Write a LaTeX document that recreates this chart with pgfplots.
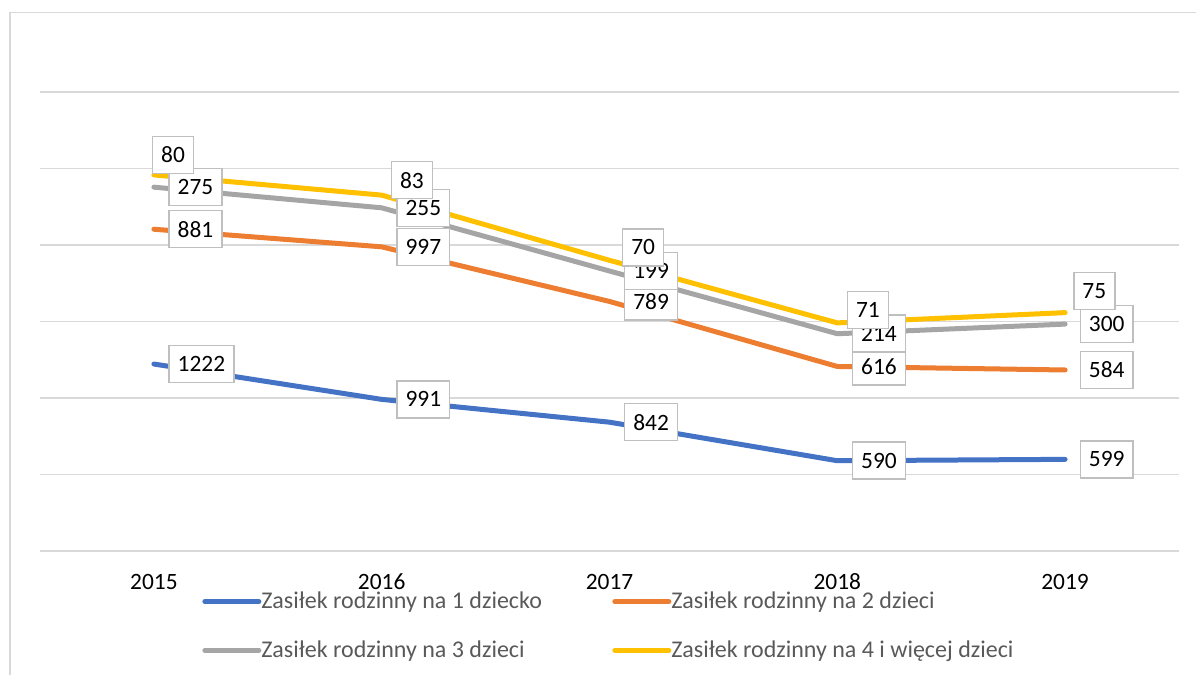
\documentclass[border=0pt]{standalone}
\usepackage{pgfplots}
\pgfplotsset{compat=1.18}
\usepackage{pgfplotstable}
\usepackage{fontspec}
\setmainfont{Carlito}
\definecolor{s1}{HTML}{4472C4}
\definecolor{s2}{HTML}{ED7D31}
\definecolor{s3}{HTML}{A5A5A5}
\definecolor{s4}{HTML}{FFC000}
\definecolor{gridc}{HTML}{D9D9D9}
\definecolor{boxc}{HTML}{BFBFBF}
\definecolor{legc}{HTML}{595959}

% a: 1 dziecko, b: 2 dzieci, c: 3 dzieci, d: 4 i wiecej (stacked lines)
% dx, dy: label offsets (pt) of the yellow series' labels
\pgfplotstableread{
x a b c d dx dy
0 1222 881 275 80 -1 10
1 991 997 255 83 4.5 7.5
2 842 789 199 70 6.25 6.5
3 590 616 214 71 4.7 6.5
4 599 584 300 75 4 10.8
}\data

\pgfplotsset{
  lbl/.style={
    draw=none, mark=none,
    nodes near coords,
    point meta=explicit symbolic,
    every node near coord/.append style={anchor=west,
       fill=white, draw=boxc, line width=0.75pt, text=black,
       font=\fontsize{11.7}{13}\selectfont, inner xsep=4.3pt, inner ysep=0pt,
       minimum height=18.5pt},
  },
  ln/.style={line width=2.5pt, line cap=round, line join=round, mark=none},
}

\begin{document}
\begin{tikzpicture}
\useasboundingbox (0,0) rectangle (598pt,337.5pt);
\draw[gridc, line width=0.75pt] (5pt,-5pt) -- (5pt,331.25pt) -- (620pt,331.25pt);
\begin{axis}[
  at={(20pt,62pt)}, anchor=south west,
  scale only axis,
  width=569.5pt, height=229.5pt,
  xmin=-0.5, xmax=4.5,
  ymin=0, ymax=3000,
  axis line style={draw=none},
  ytick={0,500,...,3000},
  yticklabels={},
  ymajorgrids,
  grid style={gridc, line width=0.75pt},
  major tick length=0pt,
  xtick={0,1,2,3,4},
  xticklabels={2015,2016,2017,2018,2019},
  xticklabel style={font=\fontsize{11.7}{13}\selectfont, anchor=base, yshift=-19.5pt},
  legend columns=2,
  legend cell align=left,
  legend style={at={(0.1422,-0.088)}, anchor=north west, draw=none, fill=none,
     inner sep=0pt, row sep=14.5pt,
     font=\fontsize{12}{14}\selectfont, text=legc,
     nodes={inner xsep=0pt, inner ysep=0pt}},
  legend image code/.code={\draw[#1, line cap=round] (0pt,0pt) -- (27pt,0pt);},
]
% lines (stacked totals)
\addplot[s1, ln, forget plot] table[x=x, y expr=\thisrow{a}] {\data};
\addplot[s2, ln, forget plot] table[x=x, y expr=\thisrow{a}+\thisrow{b}] {\data};
\addplot[s3, ln, forget plot] table[x=x, y expr=\thisrow{a}+\thisrow{b}+\thisrow{c}] {\data};
\addplot[s4, ln, forget plot] table[x=x, y expr=\thisrow{a}+\thisrow{b}+\thisrow{c}+\thisrow{d}] {\data};
% data labels
\addplot[lbl, forget plot, every node near coord/.append style={xshift=7.25pt}]
  table[x=x, y expr=\thisrow{a}, meta=a] {\data};
\addplot[lbl, forget plot, every node near coord/.append style={xshift=7.25pt}]
  table[x=x, y expr=\thisrow{a}+\thisrow{b}, meta=b] {\data};
\addplot[lbl, forget plot, every node near coord/.append style={xshift=7.25pt}]
  table[x=x, y expr=\thisrow{a}+\thisrow{b}+\thisrow{c}, meta=c] {\data};
\addplot[lbl, forget plot,
  visualization depends on={\thisrow{dx}\as\mydx},
  visualization depends on={\thisrow{dy}\as\mydy},
  every node near coord/.append style={xshift=\mydx pt, yshift=\mydy pt}]
  table[x=x, y expr=\thisrow{a}+\thisrow{b}+\thisrow{c}+\thisrow{d}, meta=d] {\data};
\addlegendimage{s1, line width=2.5pt}
\addlegendentry{\makebox[175.5pt][l]{Zasiłek rodzinny na 1 dziecko}}
\addlegendimage{s2, line width=2.5pt}
\addlegendentry{Zasiłek rodzinny na 2 dzieci}
\addlegendimage{s3, line width=2.5pt}
\addlegendentry{\makebox[175.5pt][l]{Zasiłek rodzinny na 3 dzieci}}
\addlegendimage{s4, line width=2.5pt}
\addlegendentry{Zasiłek rodzinny na 4 i więcej dzieci}
\end{axis}
\end{tikzpicture}
\end{document}
